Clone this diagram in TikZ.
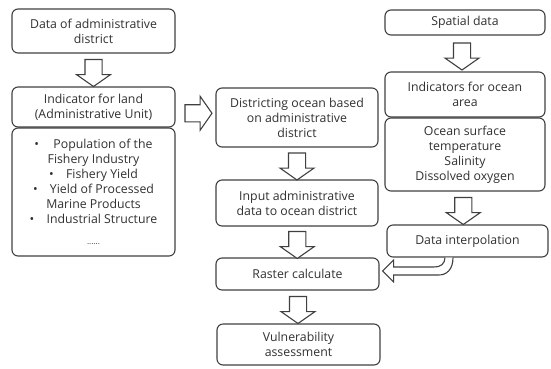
\documentclass[tikz,border=0pt]{standalone}
\usepackage{fontspec}
\setmainfont{Open Sans}
\usetikzlibrary{calc,shapes.arrows}
\definecolor{linec}{HTML}{404040}
\definecolor{textc}{HTML}{303030}
\begin{document}
\begin{tikzpicture}[x=1pt,y=-1pt,
  box/.style={draw=linec, line width=1.1pt, rounded corners=6pt, align=center,
    inner sep=0pt, text=textc, font=\fontsize{12.3}{15}\selectfont},
  barrow/.style={draw=linec, line width=1.1pt, fill=white, single arrow,
    single arrow head extend=8.5pt, single arrow tip angle=110,
    inner sep=8pt, minimum height=27pt},
  downarrow/.style={barrow, shape border rotate=270},
  rightarrow/.style={barrow, shape border rotate=0}
]
\useasboundingbox (0,0) rectangle (551,368);
% left column
\node[box, minimum width=163pt, minimum height=44pt] (d1) at (93.5,31) {Data of administrative\\district};
\node[box, minimum width=163pt, minimum height=40pt] (land) at (93.5,107) {Indicator for land\\(Administrative Unit)};
\node[box, minimum width=163pt, minimum height=128pt] (list) at (93.5,192)
  {\textbullet\quad\,Population of the\\Fishery Industry\\\textbullet\quad Fishery Yield\\\textbullet\quad Yield of Processed\\Marine Products\\\textbullet\quad Industrial Structure\\[6pt]{\fontsize{8}{8}\selectfont ......}};
% middle column
\node[box, minimum width=162pt, minimum height=59pt] (dist) at (297,117.5) {Districting ocean based\\on administrative\\district};
\node[box, minimum width=162pt, minimum height=46pt] (input) at (297,203) {Input administrative\\data to ocean district};
\node[box, minimum width=163pt, minimum height=32pt] (raster) at (297.5,274) {Raster calculate};
\node[box, minimum width=163pt, minimum height=41pt] (vuln) at (298.5,344.5) {Vulnerability\\assessment};
% right column
\node[box, minimum width=160pt, minimum height=25pt] (spatial) at (465,22.5) {Spatial data};
\node[box, minimum width=160pt, minimum height=45pt] (ind) at (465,94.5) {Indicators for ocean\\area};
\node[box, minimum width=160pt, minimum height=73pt] (ocean) at (465,154.5) {Ocean surface\\temperature\\Salinity\\Dissolved oxygen};
\node[box, minimum width=161pt, minimum height=32pt] (interp) at (467.5,241) {Data interpolation};
% block arrows
\node[downarrow] (a1) at ($(d1.south)!0.5!(land.north)$) {};
\node[rightarrow] (a2) at ($(land.east)!0.5!(dist.west)+(0,1)$) {};
\node[downarrow] (a3) at ($(dist.south)!0.5!(input.north)$) {};
\node[downarrow] (a4) at ($(input.south)!0.5!(raster.north)$) {};
\node[downarrow] (a5) at ($(raster.south)!0.5!(vuln.north)$) {};
\node[downarrow] (a6) at ($(spatial.south)!0.5!(ind.north)+(-3,0)$) {};
\node[downarrow] (a7) at ($(ocean.south)!0.5!(interp.north)+(-3,0)$) {};
% curved arrow from interpolation to raster
\draw[draw=linec, line width=1.1pt, fill=white, line join=miter]
  ($(interp.south)+(-14.5,0)$)
  .. controls ($(interp.south)+(-14.5,12)$) and ($(interp.south)+(-21,18)$) .. ($(raster.east)+(58,1)$)
  -- ($(raster.east)+(14,1)$) -- ($(raster.east)+(14,8)$) -- ($(raster.east)+(3,-3)$)
  -- ($(raster.east)+(14,-14)$) -- ($(raster.east)+(14,-7)$) -- ($(raster.east)+(54,-7)$)
  .. controls ($(interp.south)+(-27,10)$) and ($(interp.south)+(-22.5,6)$) .. ($(interp.south)+(-22.5,0)$);
\end{tikzpicture}
\end{document}
